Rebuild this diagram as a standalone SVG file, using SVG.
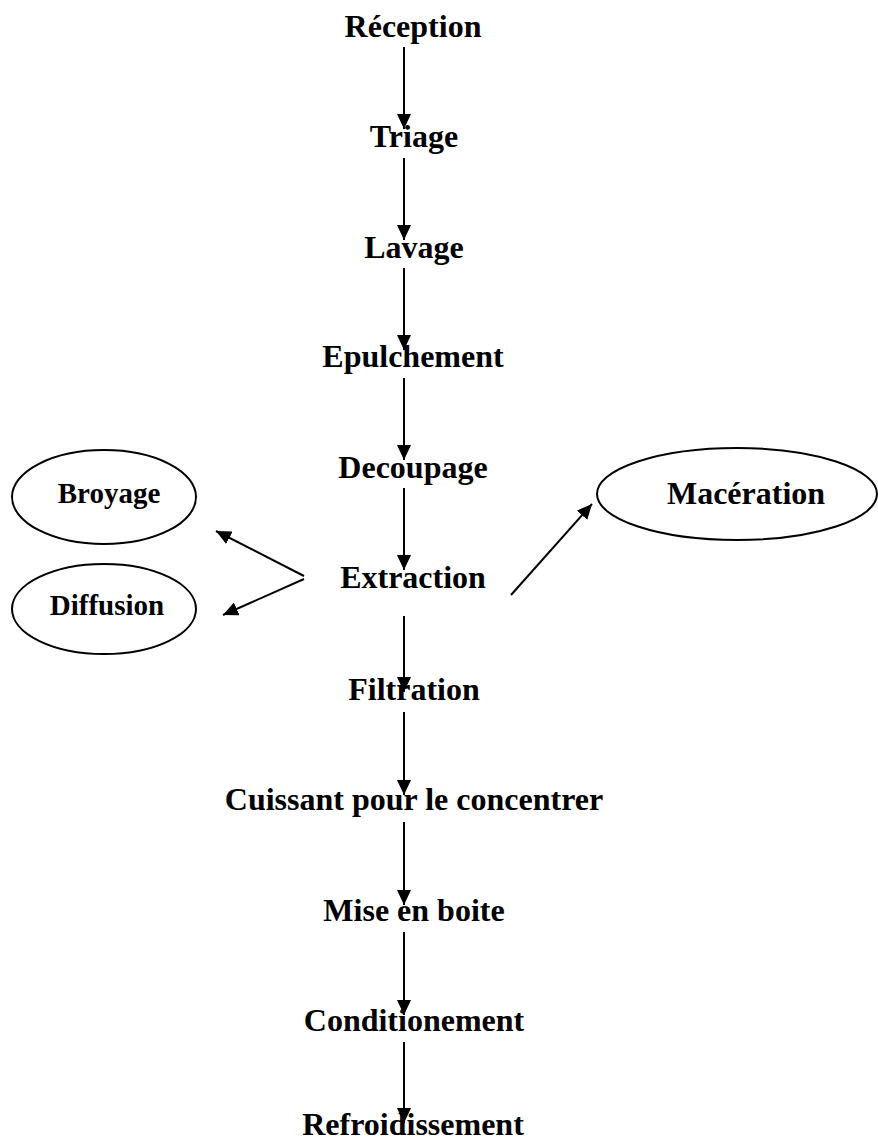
<svg xmlns="http://www.w3.org/2000/svg" width="878" height="1142" viewBox="0 0 878 1142">
<defs>
<marker id="ah" markerWidth="15" markerHeight="14" refX="15" refY="7" orient="auto" markerUnits="userSpaceOnUse">
<path d="M0,0 L15,7 L0,14 Z" fill="#000"/>
</marker>
<style>
text{font-family:"Liberation Serif","Times New Roman",serif;font-weight:bold;fill:#000;text-anchor:middle}
.t{font-size:32px}
.s{font-size:29px}
.c{stroke:#000;stroke-width:2;fill:none;marker-end:url(#ah)}
ellipse{fill:#fff;stroke:#000;stroke-width:2}
</style>
</defs>
<rect width="878" height="1142" fill="#fff"/>
<g id="connectors">
<line class="c" x1="404" y1="47" x2="404" y2="129"/>
<line class="c" x1="404" y1="158" x2="404" y2="240"/>
<line class="c" x1="404" y1="268" x2="404" y2="350"/>
<line class="c" x1="404" y1="378" x2="404" y2="460"/>
<line class="c" x1="404" y1="488" x2="404" y2="570"/>
<line class="c" x1="404" y1="616" x2="404" y2="692"/>
<line class="c" x1="404" y1="712" x2="404" y2="795"/>
<line class="c" x1="404" y1="822" x2="404" y2="905"/>
<line class="c" x1="404" y1="932" x2="404" y2="1015"/>
<line class="c" x1="404" y1="1042" x2="404" y2="1123"/>
<line class="c" x1="304" y1="576" x2="216" y2="531"/>
<line class="c" x1="304" y1="579" x2="223" y2="615"/>
<line class="c" x1="511" y1="595" x2="592" y2="504"/>
</g>
<g id="reception"><text class="t" x="413" y="37">Réception</text></g>
<g id="triage"><text class="t" x="414" y="147">Triage</text></g>
<g id="lavage"><text class="t" x="414" y="258">Lavage</text></g>
<g id="epulchement"><text class="t" x="413" y="367">Epulchement</text></g>
<g id="decoupage"><text class="t" x="413" y="478">Decoupage</text></g>
<g id="extraction"><text class="t" x="413" y="588">Extraction</text></g>
<g id="filtration"><text class="t" x="414" y="700">Filtration</text></g>
<g id="cuissant"><text class="t" x="414" y="810">Cuissant pour le concentrer</text></g>
<g id="mise"><text class="t" x="414" y="921">Mise en boite</text></g>
<g id="conditionement"><text class="t" x="414" y="1031">Conditionement</text></g>
<g id="refroidissement"><text class="t" x="413" y="1135">Refroidissement</text></g>
<g id="broyage"><ellipse cx="104" cy="497" rx="92" ry="47"/><text class="s" x="109" y="503">Broyage</text></g>
<g id="diffusion"><ellipse cx="104" cy="609" rx="92" ry="45"/><text class="s" x="107" y="615">Diffusion</text></g>
<g id="maceration"><ellipse cx="737" cy="494" rx="140" ry="46"/><text class="t" x="746" y="504">Macération</text></g>
</svg>
